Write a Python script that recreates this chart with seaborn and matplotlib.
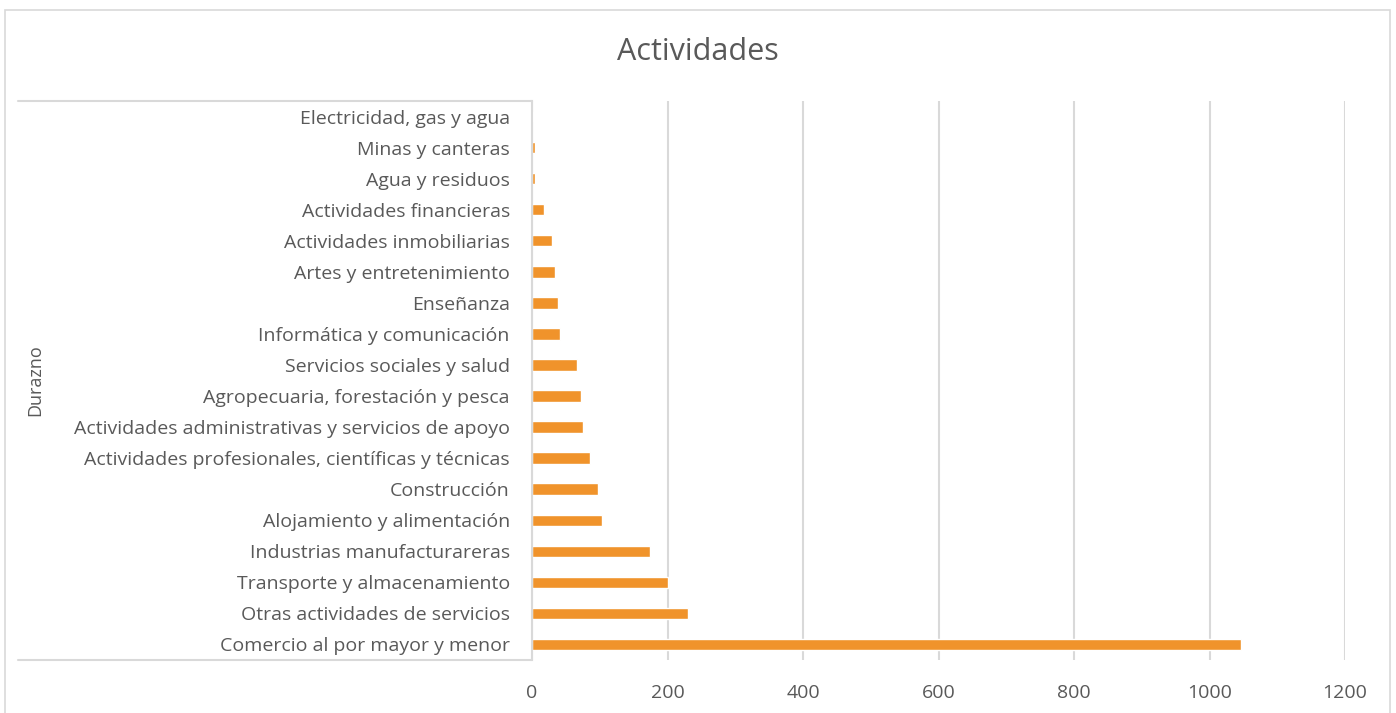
import matplotlib
matplotlib.use("Agg")
import matplotlib.pyplot as plt
import seaborn as sns
import pandas as pd
from matplotlib.lines import Line2D
from matplotlib.patches import Rectangle

actividades = [
    "Electricidad, gas y agua",
    "Minas y canteras",
    "Agua y residuos",
    "Actividades financieras",
    "Actividades inmobiliarias",
    "Artes y entretenimiento",
    "Enseñanza",
    "Informática y comunicación",
    "Servicios sociales y salud",
    "Agropecuaria, forestación y pesca",
    "Actividades administrativas y servicios de apoyo",
    "Actividades profesionales, científicas y técnicas",
    "Construcción",
    "Alojamiento y alimentación",
    "Industrias manufacturareras",
    "Transporte y almacenamiento",
    "Otras actividades de servicios",
    "Comercio al por mayor y menor",
]
cantidades = [1, 5, 5, 18, 30, 34, 39, 41, 66, 73, 75, 86, 97, 104, 174, 200, 230, 1047]
grupo = "Durazno"
ticks_x = [0, 200, 400, 600, 800, 1000, 1200]

df = pd.DataFrame({"Actividad": actividades, "Cantidad": cantidades})

sns.set_theme(style="white")
plt.rcParams["font.family"] = ["Open Sans", "DejaVu Sans"]
gris_txt = "#595959"
gris_lin = "#d9d9d9"

fig = plt.figure(figsize=(13.96, 7.13), dpi=100)
ax = fig.add_axes([532 / 1396, 1 - 660 / 713, (1345 - 532) / 1396, (660 - 101) / 713])

sns.barplot(data=df, x="Cantidad", y="Actividad", order=actividades,
            color="#F0932B", saturation=1, width=0.37, ax=ax)

ax.set_xlim(0, 1200)
ax.set_xticks(ticks_x)
ax.set_ylim(len(actividades) - 0.5, -0.5)
ax.xaxis.grid(True, color=gris_lin, linewidth=1.5)
ax.set_axisbelow(True)
ax.set_xlabel("")
ax.set_ylabel("")
for s in ["top", "right", "bottom"]:
    ax.spines[s].set_visible(False)
ax.spines["left"].set_color(gris_lin)
ax.spines["left"].set_linewidth(1.5)
ax.tick_params(axis="y", length=0, pad=16, labelsize=14, labelcolor=gris_txt)
ax.tick_params(axis="x", length=0, pad=17, labelsize=14, labelcolor=gris_txt)

# lineas de la categoria externa
for yy in [101, 660]:
    fig.add_artist(Line2D([18 / 1396, 532 / 1396], [1 - yy / 713, 1 - yy / 713],
                          color=gris_lin, linewidth=1.5))
fig.text(35 / 1396, 1 - 380 / 713, grupo, rotation=90, ha="center", va="center",
         fontsize=13, color=gris_txt)

fig.text(0.5, 1 - 52 / 713, "Actividades", ha="center", va="center",
         fontsize=22, color=gris_txt)

fig.add_artist(Rectangle((5 / 1396, -0.01), 1385 / 1396, 1 - 10 / 713 + 0.01,
                         fill=False, edgecolor=gris_lin, linewidth=1.2))

fig.savefig("out.png", dpi=100)
